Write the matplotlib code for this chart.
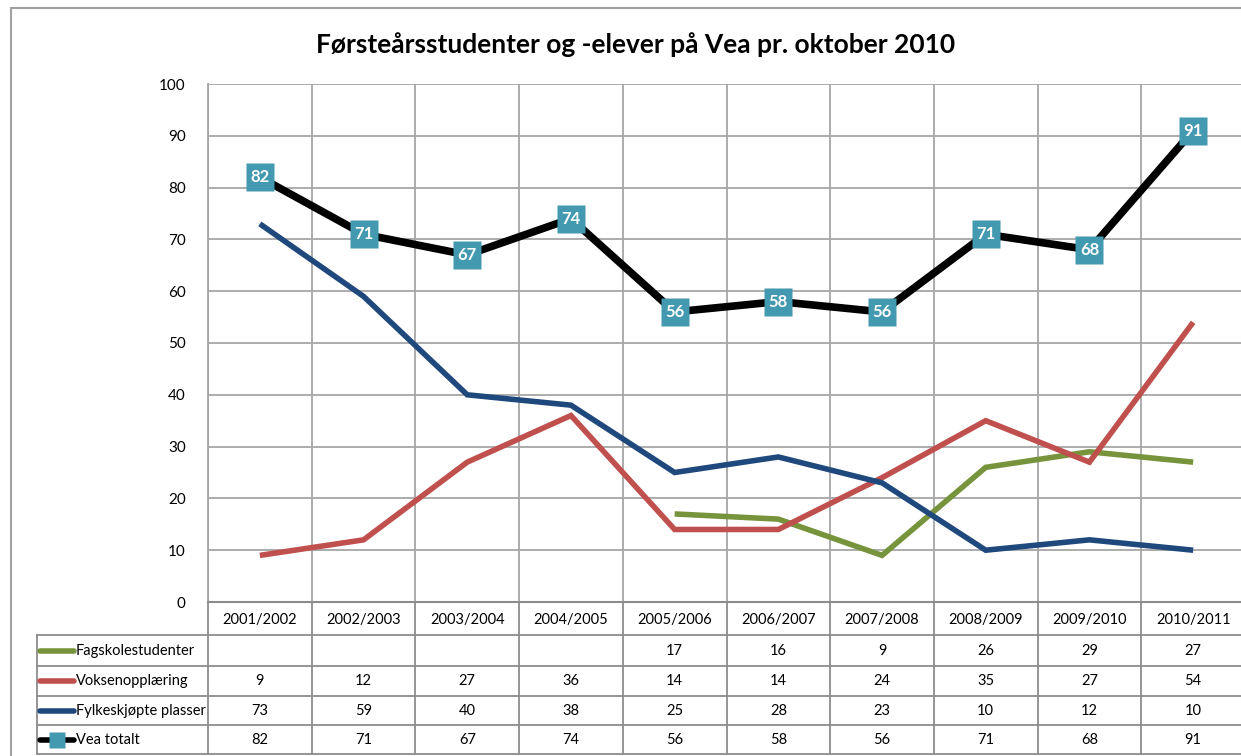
import matplotlib
matplotlib.use("Agg")
import matplotlib.pyplot as plt
from matplotlib.patches import Rectangle
from matplotlib.lines import Line2D

plt.rcParams['font.family'] = ['Lato', 'DejaVu Sans']

title = "Førsteårsstudenter og -elever på Vea pr. oktober 2010"
categories = ["2001/2002", "2002/2003", "2003/2004", "2004/2005", "2005/2006",
              "2006/2007", "2007/2008", "2008/2009", "2009/2010", "2010/2011"]
series_names = ["Fagskolestudenter", "Voksenopplæring", "Fylkeskjøpte plasser", "Vea totalt"]
fagskole = [None, None, None, None, 17, 16, 9, 26, 29, 27]
voksen = [9, 12, 27, 36, 14, 14, 24, 35, 27, 54]
fylke = [73, 59, 40, 38, 25, 28, 23, 10, 12, 10]
vea = [82, 71, 67, 74, 56, 58, 56, 71, 68, 91]
yticks = [0, 10, 20, 30, 40, 50, 60, 70, 80, 90, 100]

colors = ["#77933C", "#C0504D", "#1F497D", "#000000"]
marker_color = "#4399AF"
grid_color = "#A6A6A6"

W, H = 1241, 756
fig = plt.figure(figsize=(W / 100, H / 100), dpi=100)

def fx(px):
    return px / W

def fy(py):
    return 1 - py / H

# outer border
fig.patches.append(Rectangle((fx(11), -0.1), 1.2, fy(8) + 0.1, transform=fig.transFigure,
                             fill=False, edgecolor="#A0A0A0", linewidth=1.5))

left_px, right_px, top_px, bot_px = 208, 1245, 84, 602
ax = fig.add_axes([fx(left_px), fy(bot_px), fx(right_px - left_px), fy(top_px) - fy(bot_px)])
n = len(categories)
ax.set_xlim(-0.5, n - 0.5)
ax.set_ylim(0, 100)
ax.set_yticks(yticks)
ax.set_yticklabels([str(t) for t in yticks], fontsize=11)
ax.set_xticks([i + 0.5 for i in range(-1, n)])
ax.set_xticklabels([])
ax.tick_params(axis='both', length=0, pad=16)
ax.tick_params(axis='x', pad=0)
ax.grid(True, color=grid_color, linewidth=1.3)
for s in ["top", "right", "bottom"]:
    ax.spines[s].set_visible(False)
ax.spines["left"].set_color(grid_color)
ax.spines["left"].set_linewidth(1.3)
ax.set_axisbelow(True)

x = list(range(n))
def xy(vals):
    xs = [i for i, v in zip(x, vals) if v is not None]
    ys = [v for v in vals if v is not None]
    return xs, ys

lw = 4.0
for vals, c in zip([fagskole, voksen, fylke], colors[:3]):
    xs, ys = xy(vals)
    ax.plot(xs, ys, color=c, linewidth=lw, solid_capstyle='butt', solid_joinstyle='miter', zorder=3)
ax.plot(x, vea, color=colors[3], linewidth=5.5, solid_joinstyle='miter', zorder=4)
ax.plot(x, vea, linestyle='none', marker='s', markersize=20, markerfacecolor=marker_color,
        markeredgecolor='none', zorder=5)
for xi, v in zip(x, vea):
    ax.text(xi, v, str(v), ha='center', va='center', color='white', fontsize=12,
            fontweight='bold', zorder=6)

fig.text(fx(636), fy(45), title, ha='center', va='center', fontsize=19, fontweight='bold')

# data table
rows = [602, 635, 666, 696, 725, 754]
tleft = 37
tax = fig.add_axes([fx(tleft), fy(rows[-1]), fx(right_px - tleft), fy(rows[0]) - fy(rows[-1])])
unit = (right_px - left_px) / n
x0 = -0.5 - (left_px - tleft) / unit
tax.set_xlim(x0, n - 0.5)
tax.set_ylim(rows[-1], rows[0])
tax.axis('off')
tc = "#8C8C8C"
# horizontal lines
tax.plot([-0.5, n - 0.5], [rows[0], rows[0]], color=tc, lw=1.5, clip_on=False)
for r in rows[1:]:
    tax.plot([x0, n - 0.5], [r, r], color=tc, lw=1.3, clip_on=False)
# vertical lines
tax.plot([x0, x0], [rows[1], rows[-1]], color=tc, lw=1.3, clip_on=False)
for i in range(n + 1):
    tax.plot([i - 0.5, i - 0.5], [rows[0], rows[-1]], color=tc, lw=1.3, clip_on=False)
# header
for i, cat in enumerate(categories):
    tax.text(i, (rows[0] + rows[1]) / 2 + 1, cat, ha='center', va='center', fontsize=10.5)
# rows
all_vals = [fagskole, voksen, fylke, vea]
for k, (name, vals, c) in enumerate(zip(series_names, all_vals, colors)):
    yc = (rows[k + 1] + rows[k + 2]) / 2
    kx0 = x0 + 3 / unit
    kx1 = x0 + 37 / unit
    tax.plot([kx0, kx1], [yc, yc], color=c, lw=4, solid_capstyle='round', clip_on=False)
    if k == 3:
        tax.plot([(kx0 + kx1) / 2], [yc], marker='s', markersize=11, color=marker_color,
                 markeredgecolor='none', clip_on=False)
    tax.text(kx1 + 2 / unit, yc, name, ha='left', va='center', fontsize=10.5)
    for i, v in enumerate(vals):
        if v is not None:
            tax.text(i, yc, str(v), ha='center', va='center', fontsize=10.5)

fig.savefig("out.png", dpi=100)
